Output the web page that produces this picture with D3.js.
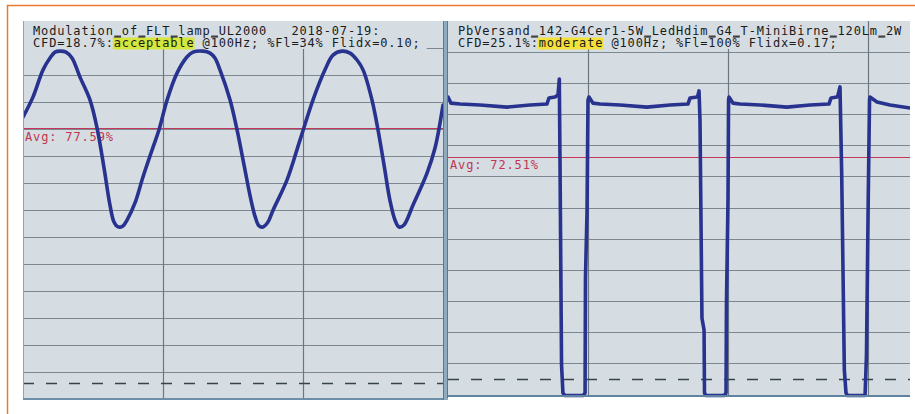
<!DOCTYPE html>
<html>
<head>
<meta charset="utf-8">
<script src="https://cdn.jsdelivr.net/npm/d3@7"></script>
<style>
  html, body { margin: 0; padding: 0; background: #ffffff; }
  svg { display: block; }
</style>
</head>
<body>
<script>
// ---------------- DATA ----------------
// Left trace: fluorescent lamp, relative light level (%) over time (ms)
const leftTimeMs = [0, 0.71, 1.43, 1.93, 2.29, 2.64, 3.07, 3.5, 4.07, 4.79,
  5.29, 5.79, 6.21, 6.5, 6.79, 7.14, 7.43, 8.0, 8.57,
  9.29, 9.71, 10.29, 11.0, 11.71, 12.14, 12.86, 13.36, 13.71, 14.07,
  14.79, 15.29, 15.79, 16.21, 16.57, 16.86, 17.14, 17.5, 17.86, 18.86,
  19.79, 20.71, 21.57, 22.14, 22.79, 23.36, 23.86, 24.29, 24.93, 25.36,
  25.79, 26.21, 26.57, 26.86, 27.21, 27.86, 28.86, 29.43, 30.0];
const leftLevelPct = [80.9, 87.0, 95.3, 98.9, 100.7, 101.0, 100.7, 98.9, 93.1, 86.1,
  77.6, 65.4, 54.2, 49.0, 47.5, 47.8, 49.6, 54.8, 62.7,
  71.8, 77.0, 86.1, 94.3, 99.2, 100.7, 101.0, 100.4, 98.9, 95.3,
  86.1, 77.0, 66.3, 57.2, 50.8, 47.8, 47.5, 49.0, 52.6, 61.8,
  74.0, 86.1, 95.3, 99.8, 101.0, 100.4, 98.3, 95.3, 86.1, 77.0,
  66.3, 55.6, 49.6, 47.5, 48.1, 54.2, 63.9, 71.5, 84.6];

// Right trace: LED lamp, relative light level (%) over time (ms)
const rightTimeMs = [0.00, 0.21, 0.86, 2.29, 4.21, 5.86, 7.07, 7.21, 7.64, 7.86,
  7.95, 8.00, 8.11, 8.21, 8.36, 9.64, 9.79, 9.82, 9.93, 10.00, 10.07, 10.36,
  10.86, 12.29, 14.21, 15.86, 17.14, 17.29, 17.79, 17.86, 17.93, 18.00,
  18.14, 18.29, 18.32, 18.43, 19.71, 19.86, 19.89, 20.00, 20.04, 20.07, 20.36,
  20.86, 22.29, 24.21, 25.86, 27.21, 27.36, 27.79, 27.86, 28.00, 28.12,
  28.31, 28.43, 28.54, 29.79, 29.89, 30.02, 30.11, 30.14, 30.64, 31.57, 33.00];
const rightLevelPct = [92.1, 90.1, 89.8, 89.5, 88.8, 89.5, 89.8, 91.8, 92.1, 92.8,
  98.0, 71.5, 4.6, -4.6, -5.4, -5.4, -4.6, 33.3, 54.5, 91.1, 92.1, 90.1,
  89.8, 89.5, 88.8, 89.5, 89.8, 91.8, 92.1, 92.8, 94.1, 84.6,
  19.9, 16.0, -4.6, -5.4, -5.4, -4.6, 24.8, 58.5, 91.1, 92.1, 90.1,
  89.8, 89.5, 88.8, 89.5, 89.8, 91.8, 92.1, 92.8, 95.4, 67.3,
  2.9, -4.6, -5.4, -5.4, 7.8, 60.1, 91.1, 92.1, 90.5, 89.5, 88.5];

const averagePct = [77.59, 72.51];
const timeGridMs = [[10, 20], [10, 20, 30]];
const titleLine1 = ["Modulation_of_FLT_lamp_UL2000   2018-07-19:",
                    "PbVersand_142-G4Cer1-5W_LedHdim_G4_T-MiniBirne_120Lm_2W"];
const cfdPrefix = ["CFD=18.7%:", "CFD=25.1%:"];
const ratingWord = ["acceptable", "moderate"];
const ratingSuffix = [" @100Hz; %Fl=34% Flidx=0.10;", " @100Hz; %Fl=100% Flidx=0.17;"];

// ---------------- LAYOUT ----------------
const W = 915, H = 414;
const FONT = "'DejaVu Sans Mono', 'Liberation Mono', monospace";
const FS = 12, LS = "0.85px";
const panels = [
  { x0: 23, x1: 443, top: 21, bottom: 399, gridBottom: 399, tDomain: [0, 30], vDomain: [-4.87, 110.17],
    divisions: 14, textX: 33, ratingColor: "#d5e63c", avgLabelX: 25, avgLabelDy: 13,
    time: leftTimeMs, level: leftLevelPct, curve: d3.curveCatmullRom.alpha(0.5) },
  { x0: 448, x1: 910, top: 21, bottom: 397, gridBottom: 394, tDomain: [0, 33], vDomain: [-5.88, 116.93],
    divisions: 12, textX: 458, ratingColor: "#f3e23a", avgLabelX: 450, avgLabelDy: 12,
    time: rightTimeMs, level: rightLevelPct, curve: d3.curveLinear }
];
const panelFill = "#d5dde3";
const textColor = "#1b1b1b";

const svg = d3.select("body").append("svg").attr("width", W).attr("height", H);
svg.append("rect").attr("width", W).attr("height", H).attr("fill", "#ffffff");
const defs = svg.append("defs");

function monoText(sel, xPos, yPos) {
  return sel.append("text").attr("x", xPos).attr("y", yPos)
    .attr("font-family", FONT).attr("font-size", FS).style("letter-spacing", LS)
    .attr("fill", textColor).style("white-space", "pre").attr("xml:space", "preserve");
}

panels.forEach((p, i) => {
  const x = d3.scaleLinear().domain(p.tDomain).range([p.x0, p.x1]);
  const y = d3.scaleLinear().domain(p.vDomain).range([p.bottom, p.top]);
  const gridY = d3.scaleLinear().domain([0, p.divisions]).range([p.gridBottom, p.top]);
  const g = svg.append("g");

  defs.append("clipPath").attr("id", "clip" + i)
    .append("rect").attr("x", p.x0).attr("y", p.top).attr("width", p.x1 - p.x0).attr("height", p.bottom - p.top + 1);

  g.append("rect").attr("x", p.x0).attr("y", p.top).attr("width", p.x1 - p.x0).attr("height", p.bottom - p.top)
    .attr("fill", panelFill);

  // horizontal grid
  g.selectAll("line.h").data(d3.range(1, p.divisions)).join("line")
    .attr("x1", p.x0).attr("x2", p.x1)
    .attr("y1", d => Math.round(gridY(d)) + 0.5).attr("y2", d => Math.round(gridY(d)) + 0.5)
    .attr("stroke", "#7c8891").attr("stroke-width", 1.2);

  // vertical grid (time)
  g.selectAll("line.v").data(timeGridMs[i]).join("line")
    .attr("x1", d => Math.round(x(d)) + 0.5).attr("x2", d => Math.round(x(d)) + 0.5)
    .attr("y1", p.top).attr("y2", p.bottom)
    .attr("stroke", "#6c7881").attr("stroke-width", 1.2);

  // header text with its own background box
  const header = g.append("g");
  const bg = header.append("rect").attr("fill", panelFill);
  const hl = header.append("rect").attr("fill", p.ratingColor);
  const t1 = monoText(header, p.textX, 34.5).text(titleLine1[i]);
  const t2 = monoText(header, p.textX, 47);
  t2.append("tspan").text(cfdPrefix[i]);
  t2.append("tspan").text(ratingWord[i]);
  t2.append("tspan").text(ratingSuffix[i]);
  const n = t2.node();
  const startW = n.getSubStringLength(0, cfdPrefix[i].length);
  const wordW = n.getSubStringLength(cfdPrefix[i].length, ratingWord[i].length);
  const lineW = n.getComputedTextLength();
  bg.attr("x", p.x0).attr("y", p.top).attr("width", p.textX - p.x0 + lineW + 6).attr("height", 28);
  hl.attr("x", p.textX + startW - 1).attr("y", 37.5).attr("width", wordW + 1).attr("height", 12);

  // make underscores visible (the font draws them as hairlines)
  const n1 = t1.node();
  const us = [];
  for (let k = 0; k < titleLine1[i].length; k++) {
    if (titleLine1[i][k] === "_") {
      const e = n1.getExtentOfChar(k);
      us.push([e.x + 0.5, e.width - 1.2]);
    }
  }
  header.selectAll("rect.us").data(us).join("rect")
    .attr("x", d => d[0]).attr("width", d => d[1]).attr("y", 35.6).attr("height", 1.2)
    .attr("fill", textColor);

  // average line + label
  g.append("line").attr("x1", p.x0).attr("x2", p.x1)
    .attr("y1", Math.round(y(averagePct[i])) + 0.5).attr("y2", Math.round(y(averagePct[i])) + 0.5)
    .attr("stroke", "#c8355a").attr("stroke-width", 1.2);
  monoText(g, p.avgLabelX, y(averagePct[i]) + p.avgLabelDy).attr("fill", "#c0354f")
    .text("Avg: " + averagePct[i].toFixed(2) + "%");

  // zero (dark) dashed line
  g.append("line").attr("x1", p.x0).attr("x2", p.x1)
    .attr("y1", Math.round(y(0)) + 0.5).attr("y2", Math.round(y(0)) + 0.5)
    .attr("stroke", "#36434d").attr("stroke-width", 1.4).attr("stroke-dasharray", "11,12");

  // trace
  const pts = p.time.map((t, k) => [t, p.level[k]]);
  const line = d3.line().x(d => x(d[0])).y(d => y(d[1])).curve(p.curve);
  g.append("path").attr("d", line(pts))
    .attr("clip-path", "url(#clip" + i + ")")
    .attr("fill", "none").attr("stroke", "#28338f").attr("stroke-width", 3.6)
    .attr("stroke-linejoin", "round").attr("stroke-linecap", "round");
});

// panel borders
svg.append("line").attr("x1", 23.5).attr("x2", 23.5).attr("y1", 21).attr("y2", 400)
  .attr("stroke", "#8fa3b3").attr("stroke-width", 1);
svg.append("line").attr("x1", 23).attr("x2", 443).attr("y1", 399).attr("y2", 399)
  .attr("stroke", "#6f8ea8").attr("stroke-width", 2);
svg.append("line").attr("x1", 448).attr("x2", 910).attr("y1", 396).attr("y2", 396)
  .attr("stroke", "#5f83a0").attr("stroke-width", 2);
// separator between the two panels
svg.append("rect").attr("x", 443).attr("y", 21).attr("width", 5).attr("height", 379)
  .attr("fill", "#8eabc0");
svg.append("line").attr("x1", 443.5).attr("x2", 443.5).attr("y1", 21).attr("y2", 400)
  .attr("stroke", "#5c7890").attr("stroke-width", 1);
svg.append("line").attr("x1", 447.5).attr("x2", 447.5).attr("y1", 21).attr("y2", 398)
  .attr("stroke", "#5c7890").attr("stroke-width", 1);

// orange frame
svg.append("path").attr("d", "M7.5,414 V5.5 H915")
  .attr("fill", "none").attr("stroke", "#ec7a2e").attr("stroke-width", 1.5);
</script>
</body>
</html>
